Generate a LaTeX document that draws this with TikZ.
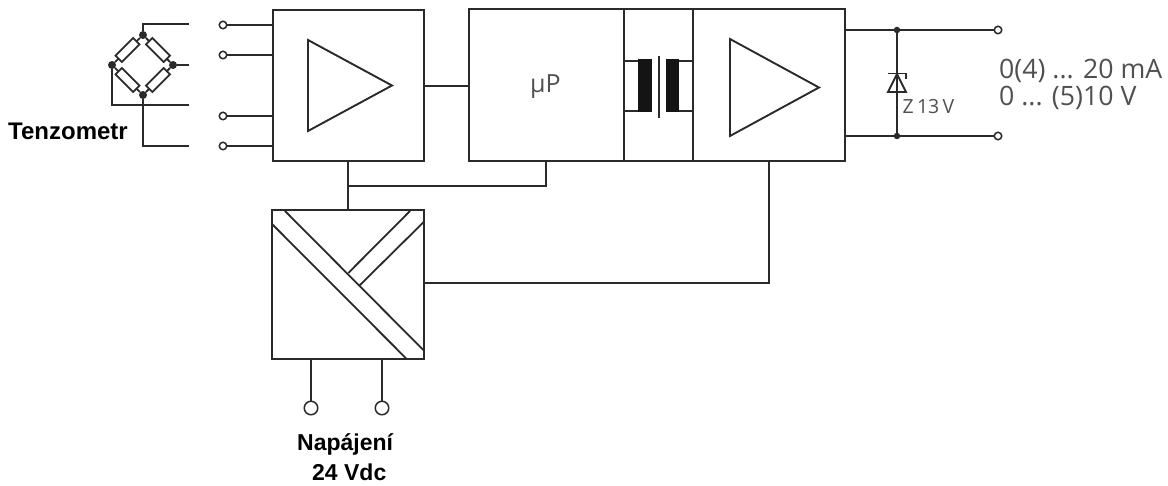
\documentclass[tikz,border=0pt]{standalone}
\usepackage{fontspec}
\usetikzlibrary{calc}
\setmainfont{Liberation Sans}
\newfontfamily\lightfont{Open Sans}
\definecolor{ink}{HTML}{2A2A2A}
\definecolor{greytext}{HTML}{505050}
\tikzset{
  wire/.style={draw=ink,line width=1.9pt},
  fine wire/.style={draw=ink,line width=1.8pt},
  blockbox/.style={draw=ink,line width=1.9pt,anchor=north west,inner sep=0pt,outer sep=0pt,rectangle},
  term/.style={circle,draw=ink,line width=1.5pt,fill=white,inner sep=0pt,minimum size=7.5pt,outer sep=0pt},
  bigterm/.style={term,minimum size=13.5pt},
  dotnode/.style={circle,fill=ink,inner sep=0pt,minimum size=8pt},
  smalldot/.style={circle,fill=ink,inner sep=0pt,minimum size=6.5pt},
  resistor/.style={draw=ink,line width=1.7pt,fill=white,rectangle,inner sep=0pt,minimum width=25pt,minimum height=9pt},
  bold label/.style={font=\bfseries\fontsize{23}{26}\selectfont,text=black,inner sep=0pt,anchor=base west},
  out label/.style={font=\lightfont\fontsize{26.7}{28}\selectfont,text=greytext,inner sep=0pt,anchor=base west},
}
\begin{document}
\begin{tikzpicture}[x=1pt,y=-1pt]
\useasboundingbox (0,0) rectangle (1168,486);
% blocks
\node[blockbox,minimum width=151pt,minimum height=151pt] (amp) at (273,10) {};
\node[blockbox,minimum width=155pt,minimum height=152pt] (cpu) at (469,9) {};
\node[blockbox,minimum width=69pt,minimum height=152pt] (iso) at (624,9) {};
\node[blockbox,minimum width=152pt,minimum height=152pt] (outamp) at (693,9) {};
\node[blockbox,minimum width=152pt,minimum height=149pt] (psu) at (272,210) {};
\node[font=\lightfont\fontsize{25}{26}\selectfont,text=greytext,inner sep=0pt,anchor=base west] (mup) at (530,93) {µP};
% triangles
\draw[wire,line join=miter] (308,40) -- (392,85.5) -- (308,131) -- cycle;
\draw[wire,line join=miter] (730,39) -- (819,87.5) -- (730,136) -- cycle;
% bridge
\node[dotnode] (bt) at (143,35) {};
\node[dotnode] (br) at (173,65) {};
\node[dotnode] (bb) at (143,95) {};
\node[dotnode] (bl) at (112,65) {};
\draw[fine wire] (bl) -- (bt) -- (br) -- (bb) -- (bl);
\node[resistor,rotate=45] (r1) at ($(bl)!0.5!(bt)$) {};
\node[resistor,rotate=-45] (r2) at ($(bt)!0.5!(br)$) {};
\node[resistor,rotate=45] (r3) at ($(bb)!0.5!(br)$) {};
\node[resistor,rotate=-45] (r4) at ($(bl)!0.5!(bb)$) {};
% bridge leads
\coordinate (ltop) at (189,24);
\coordinate (lright) at (189,65);
\coordinate (lleft) at (189,105);
\coordinate (lbot) at (189,146);
\draw[fine wire] (bt) |- (ltop);
\draw[fine wire] (br) -- (lright);
\draw[fine wire] (bl) |- (lleft);
\draw[fine wire] (bb) |- (lbot);
% input terminals
\node[term] (i1) at (223,25) {};
\node[term] (i2) at (223,55) {};
\node[term] (i3) at (223,116) {};
\node[term] (i4) at (223,146) {};
\foreach \n in {i1,i2,i3,i4} \draw[fine wire] (\n) -- (\n -| amp.west);
% links between blocks
\draw[wire] (amp.east |- 0,86) -- (cpu.west |- 0,86);
\coordinate (ampfeed) at (348,161);
\coordinate (cpufeed) at (546,161);
\draw[wire] (ampfeed) -- (ampfeed |- psu.north);
\draw[wire] (ampfeed |- 0,186) -| (cpufeed);
\coordinate (outfeed) at (769,161);
\draw[wire] (psu.east |- 0,283) -| (outfeed);
% transformer
\fill[black!92] (638,59.5) rectangle (652,112.5);
\fill[black!92] (666,59.5) rectangle (679,112.5);
\draw[fine wire] (iso.west |- 0,61) -- (638,61);
\draw[fine wire] (iso.west |- 0,111) -- (638,111);
\draw[fine wire] (679,61) -- (iso.east |- 0,61);
\draw[fine wire] (679,111) -- (iso.east |- 0,111);
\draw[fine wire] (659,56) -- (659,118);
% output stage
\node[term] (o1) at (998,30) {};
\node[term] (o2) at (998,136) {};
\draw[wire] (outamp.east |- o1) -- (o1);
\draw[wire] (outamp.east |- o2) -- (o2);
\node[smalldot] (j1) at (897,30) {};
\node[smalldot] (j2) at (897,136) {};
% zener
\draw[wire,line join=miter,fill=white] (897,74) -- (906,92) -- (888,92) -- cycle;
\draw[wire] (887.5,73.5) -- (906,73.5) -- (906,79);
\draw[wire] (j1) -- (j2);
\node[font=\lightfont\fontsize{19.5}{20}\selectfont,text=greytext,inner sep=0pt,anchor=base west] (zlab) at (902.5,114) {Z\,13\,V};
% converter block diagonals
\draw[fine wire] (285,211) -- (424,350.7);
\draw[fine wire] (272,224) -- (406.7,359);
\draw[fine wire] (348.3,273) -- (410,211);
\draw[fine wire] (359.3,285.7) -- (424,221.7);
% supply terminals
\node[bigterm] (s1) at (311,408) {};
\node[bigterm] (s2) at (382,408) {};
\draw[fine wire] (s1) -- (s1 |- psu.south);
\draw[fine wire] (s2) -- (s2 |- psu.south);
% labels
\node[bold label,font=\bfseries\fontsize{24}{26}\selectfont] (tz) at (8,140) {Tenzometr};
\node[out label] (oa) at (999,79) {0(4) ... 20 mA};
\node[out label] (ob) at (999,106) {0 ... (5)10 V};
\node[bold label] (np) at (297,450) {Napájení};
\node[bold label] (nv) at (312,480) {24 Vdc};
\end{tikzpicture}
\end{document}
